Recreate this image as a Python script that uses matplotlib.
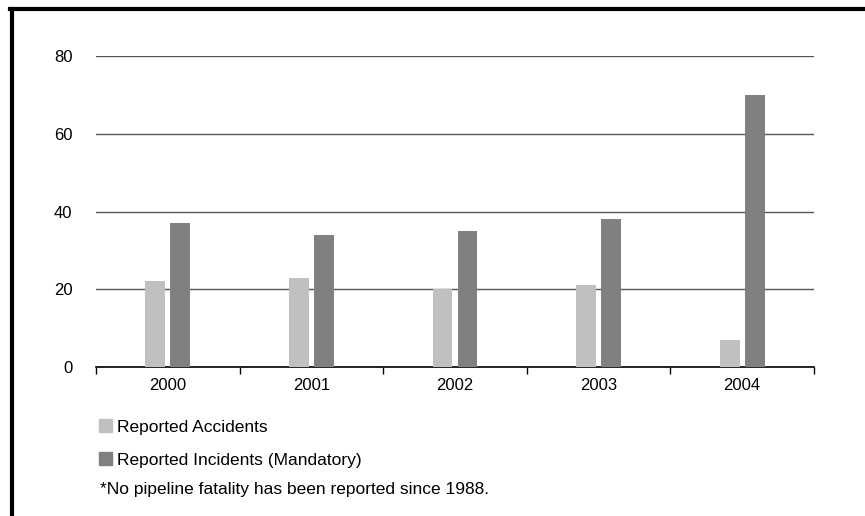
import matplotlib
matplotlib.use("Agg")
import numpy as np
import matplotlib.pyplot as plt
from matplotlib.patches import Patch

plt.rcParams['font.family'] = ['Liberation Sans', 'DejaVu Sans']

years = ["2000", "2001", "2002", "2003", "2004"]
accidents = [22, 23, 20, 21, 7]
incidents = [37, 34, 35, 38, 70]
yticks = [0, 20, 40, 60, 80]

light, dark = "#c0c0c0", "#808080"

fig = plt.figure(figsize=(8.65, 5.16), dpi=100)
ax = fig.add_axes([0.111, 0.289, 0.830, 0.602])

x = np.arange(len(years))
w, off = 0.139, 0.087
ax.bar(x - off, accidents, w, color=light, zorder=3)
ax.bar(x + off, incidents, w, color=dark, zorder=3)

ax.set_xlim(-0.5, len(years) - 0.5)
ax.set_ylim(0, 80)
ax.set_yticks(yticks)
ax.yaxis.grid(True, color="#555555", linewidth=1)
ax.tick_params(axis="y", length=0, pad=17, labelsize=12)

# category labels centred, tick marks on the category boundaries
ax.set_xticks(x)
ax.set_xticklabels(years)
ax.tick_params(axis="x", which="major", length=0, pad=8, labelsize=12)
ax.set_xticks(np.arange(len(years) + 1) - 0.5, minor=True)
ax.tick_params(axis="x", which="minor", length=5, width=1, direction="out", color="black")

for s in ["top", "right", "left"]:
    ax.spines[s].set_visible(False)
ax.spines["bottom"].set_color("black")
ax.spines["bottom"].set_linewidth(1.2)

handles = [Patch(color=light, label="Reported Accidents"),
           Patch(color=dark, label="Reported Incidents (Mandatory)")]
fig.legend(handles=handles, loc="upper left", bbox_to_anchor=(0.114, 0.188),
           frameon=False, fontsize=12.5, handlelength=0.8, handleheight=0.8,
           handletextpad=0.25, labelspacing=1.0, borderaxespad=0, borderpad=0)
fig.text(0.116, 0.052, "*No pipeline fatality has been reported since 1988.",
         fontsize=12.5, va="center", ha="left")

# outer frame: left and top edges only
fig.add_artist(plt.Line2D([0.0133, 0.0133], [0.0, 0.982], color="black",
                          linewidth=3, transform=fig.transFigure))
fig.add_artist(plt.Line2D([0.0115, 1.0], [0.982, 0.982], color="black",
                          linewidth=3, transform=fig.transFigure))

fig.savefig("out.png", dpi=100)
